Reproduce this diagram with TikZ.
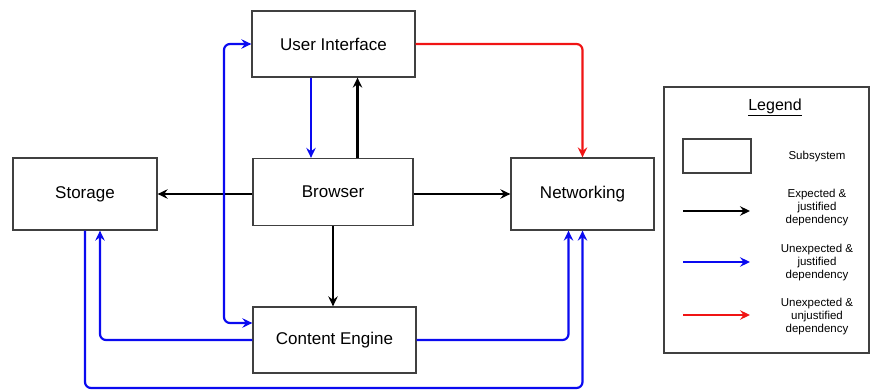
\documentclass[tikz,border=0pt]{standalone}
\usepackage{fontspec}
\setmainfont{Liberation Sans}
\usetikzlibrary{arrows.meta}
\begin{document}
\begin{tikzpicture}[x=1pt,y=-1pt,
  tip/.tip={Stealth[length=10pt,width=9.5pt,inset=3.5pt]},
  box/.style={draw=black!75,line width=1.3pt,fill=white,inner sep=0pt,font=\fontsize{17}{20}\selectfont},
  conn/.style={line width=2.2pt,rounded corners=6pt,-tip},
  both/.style={line width=2.2pt,rounded corners=6pt,tip-tip},
  legtext/.style={align=center,font=\fontsize{11.5}{13}\selectfont,inner sep=0pt}]
\useasboundingbox (0,0) rectangle (873,391);
\definecolor{dblue}{RGB}{10,10,240}
\definecolor{dred}{RGB}{240,20,20}

\node[box,minimum width=163pt,minimum height=66pt] (ui) at (333.5,44) {User Interface};
\node[box,minimum width=160pt,minimum height=67pt] (br) at (333,192) {Browser};
\node[box,minimum width=143pt,minimum height=72pt] (net) at (582.5,194) {Networking};
\node[box,minimum width=144pt,minimum height=72pt] (st) at (85,194) {Storage};
\node[box,minimum width=163pt,minimum height=66pt] (ce) at (334.5,340) {Content Engine};

% black
\draw[conn] ([xshift=24.5pt]br.north) -- ([xshift=24pt]ui.south);
\draw[conn] (br.east |- net.west) -- (net.west);
\draw[conn] (br.west |- st.east) -- (st.east);
\draw[conn] (br.south) -- (br.south |- ce.north);

% blue
\draw[conn,dblue] ([xshift=-22.5pt]ui.south) -- ([xshift=-22pt]br.north);
\coordinate (b1) at (224,44);
\coordinate (b2) at (224,323);
\draw[both,dblue] (ui.west) -- (b1) -- (b2) -- (ce.west |- b2);
\draw[conn,dblue] (ce.west) -| ([xshift=15pt]st.south);
\draw[conn,dblue] (ce.east) -| ([xshift=-14pt]net.south);
\coordinate (bot) at (0,388);
\draw[conn,dblue] (st.south) -- (st.south |- bot) -| (net.south);

% red
\draw[conn,dred] (ui.east) -| (net.north);

% legend
\draw[draw=black!75,line width=1.3pt] (664,87) rectangle (869,353);
\node[inner sep=0pt,font=\fontsize{16}{19}\selectfont] (lt) at (775,107) {\underline{Legend}};
\node[draw=black!75,line width=1.3pt,minimum width=68pt,minimum height=34pt,inner sep=0pt] (lb) at (717,156) {};
\node[legtext] (l0) at (817,157) {Subsystem};
\node[legtext] (l1) at (817,208) {Expected \&\\justified\\dependency};
\node[legtext] (l2) at (817,263) {Unexpected \&\\justified\\dependency};
\node[legtext] (l3) at (817,317) {Unexpected \&\\unjustified\\dependency};
\coordinate (a1) at (683,211); \coordinate (a1e) at (750,211);
\coordinate (a2) at (683,262); \coordinate (a2e) at (750,262);
\coordinate (a3) at (683,315); \coordinate (a3e) at (750,315);
\draw[conn] (a1) -- (a1e);
\draw[conn,dblue] (a2) -- (a2e);
\draw[conn,dred] (a3) -- (a3e);
\end{tikzpicture}
\end{document}
